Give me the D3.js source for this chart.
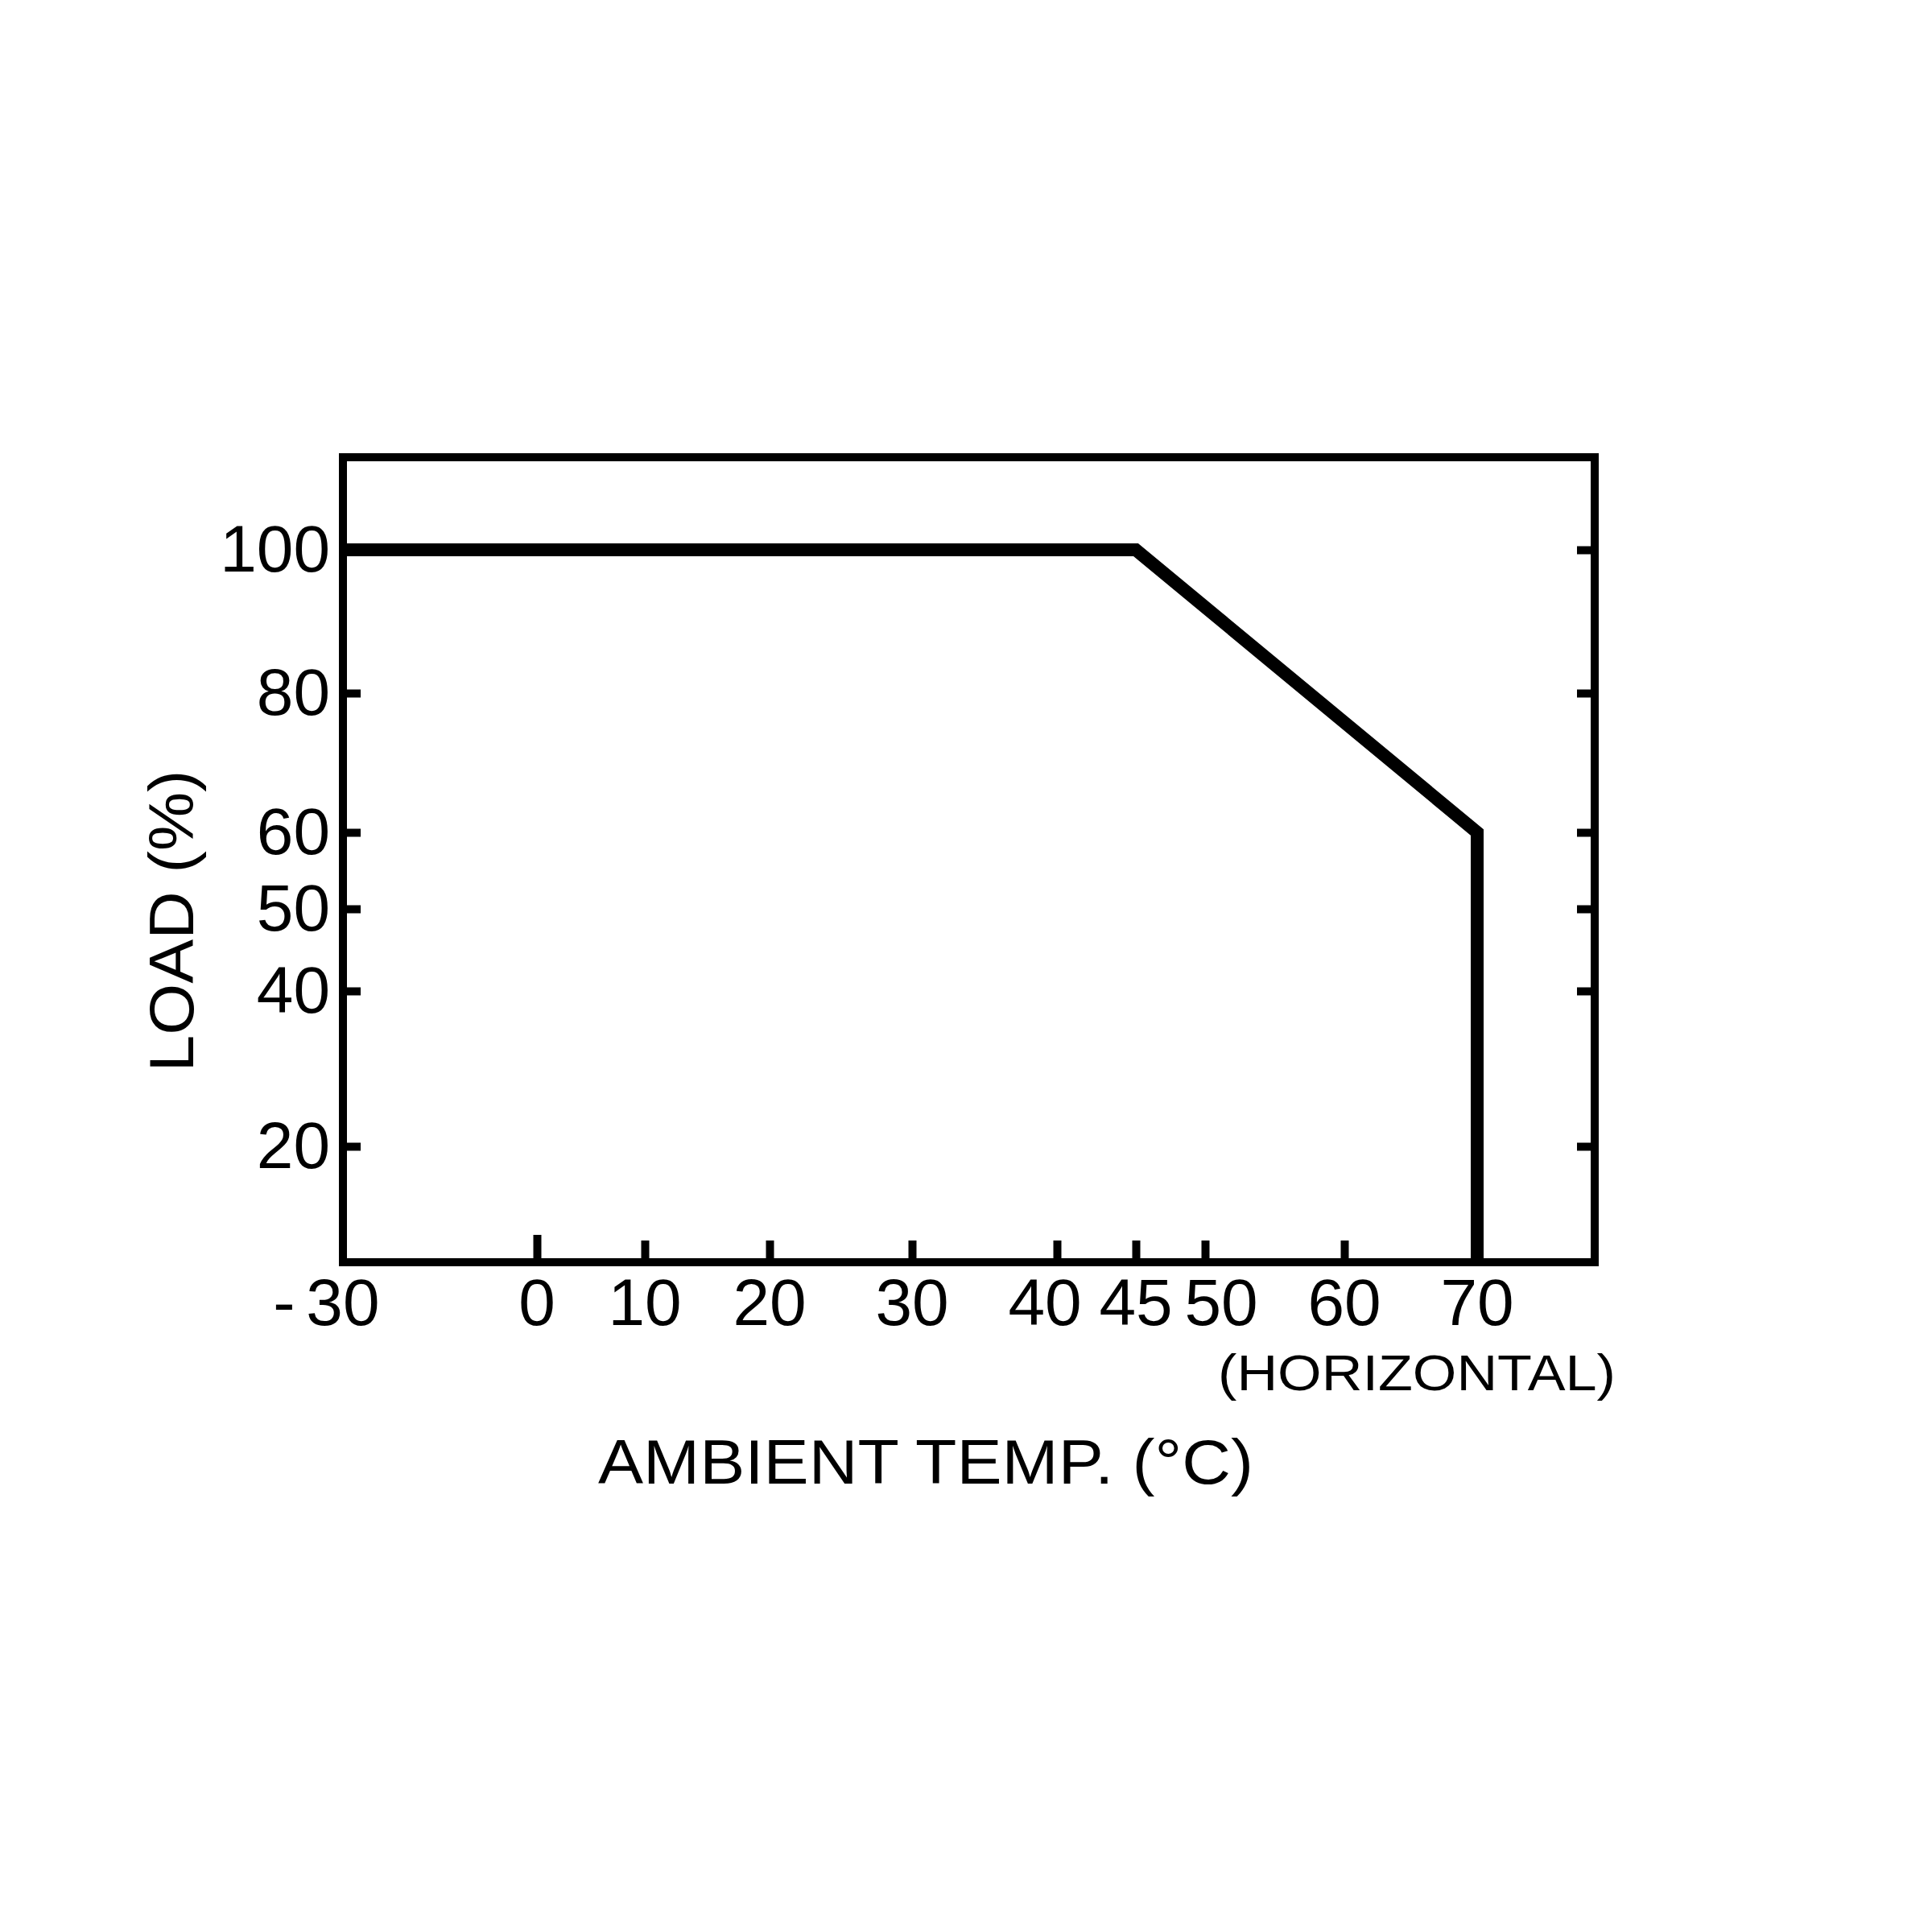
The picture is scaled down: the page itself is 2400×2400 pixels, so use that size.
<!DOCTYPE html>
<html>
<head>
<meta charset="utf-8">
<script src="https://cdn.jsdelivr.net/npm/d3@7"></script>
<style>
  html, body { margin: 0; padding: 0; background: #fff; }
  svg { display: block; }
  text { font-family: "Liberation Sans", Arial, Helvetica, sans-serif; fill: #000; }
</style>
</head>
<body>
<svg id="chart" width="2400" height="2400"></svg>
<script>
// ---------------- data ----------------
const xTicks = [-30, 0, 10, 20, 30, 40, 45, 50, 60, 70];
const xTickLabels = ["- 30", "0", "10", "20", "30", "40", "45", "50", "60", "70"];
const yTicks = [20, 40, 50, 60, 80, 100];
const yTickLabels = ["20", "40", "50", "60", "80", "100"];
const curveTemp = [-30, 45, 70, 70];
const curveLoad = [100, 100, 60, 0];
const xTitle = "AMBIENT TEMP. (°C)";
const xSubTitle = "(HORIZONTAL)";
const yTitle = "LOAD (%)";

// ---------------- layout ----------------
const box = { left: 426, right: 1981, top: 568, bottom: 1568 };
// the printed axes are not linear: piecewise-linear scales through the tick marks
const xScale = d3.scaleLinear()
  .domain([-30, 0, 10, 20, 30, 40, 45, 50, 60, 70, 79])
  .range([box.left, 667, 801, 956, 1133, 1313, 1411, 1497, 1670, 1835, box.right]);
const yScale = d3.scaleLinear()
  .domain([0, 20, 40, 50, 60, 80, 100, 113])
  .range([box.bottom, 1424, 1231, 1129, 1034, 861, 683, box.top]);

const svg = d3.select("#chart");
svg.append("rect").attr("width", 2400).attr("height", 2400).attr("fill", "#fff");

// frame
svg.append("rect")
  .attr("x", box.left).attr("y", box.top)
  .attr("width", box.right - box.left).attr("height", box.bottom - box.top)
  .attr("fill", "none").attr("stroke", "#000").attr("stroke-width", 10);

// bottom ticks (pointing up, inside)
const axisBottom = d3.axisBottom(xScale)
  .tickValues(xTicks.filter(v => v !== -30))
  .tickSizeInner(-27).tickSizeOuter(0).tickFormat("");
const gx = svg.append("g").attr("transform", `translate(0,${box.bottom})`).call(axisBottom);
gx.select(".domain").remove();
gx.selectAll(".tick line").attr("stroke", "#000").attr("stroke-width", 10)
  .attr("y2", d => d === 0 ? -34 : -27);

// left / right ticks (inside)
const axisLeft = d3.axisLeft(yScale).tickValues(yTicks.filter(v => v !== 100)).tickSizeInner(-22).tickSizeOuter(0).tickFormat("");
const gyl = svg.append("g").attr("transform", `translate(${box.left},0)`).call(axisLeft);
gyl.select(".domain").remove();
gyl.selectAll(".tick line").attr("stroke", "#000").attr("stroke-width", 10);

const axisRight = d3.axisRight(yScale).tickValues(yTicks).tickSizeInner(-22).tickSizeOuter(0).tickFormat("");
const gyr = svg.append("g").attr("transform", `translate(${box.right},0)`).call(axisRight);
gyr.select(".domain").remove();
gyr.selectAll(".tick line").attr("stroke", "#000").attr("stroke-width", 10);

// derating curve
const pts = curveTemp.map((t, i) => [t, curveLoad[i]]);
svg.append("path")
  .datum(pts)
  .attr("d", d3.line().x(d => xScale(d[0])).y(d => yScale(d[1])))
  .attr("fill", "none").attr("stroke", "#000").attr("stroke-width", 16)
  .attr("stroke-linejoin", "miter").attr("stroke-linecap", "butt");

// y tick labels
const fs = 82;
svg.append("g").selectAll("text").data(yTicks).join("text")
  .attr("x", 410)
  .attr("y", d => yScale(d) + 27)
  .attr("text-anchor", "end")
  .attr("font-size", fs)
  .text((d, i) => yTickLabels[i]);

// x tick labels (40 and 50 nudged apart around 45 as printed)
const nudge = { 40: -15, 50: 20 };
svg.append("g").selectAll("text").data(xTicks).join("text")
  .attr("x", d => xScale(d) + (nudge[d] || 0) + (d === -30 ? fs * 0.556 : 0))
  .attr("y", 1646)
  .attr("text-anchor", d => d === -30 ? "end" : "middle")
  .attr("font-size", fs)
  .attr("word-spacing", -9)
  .attr("xml:space", "preserve")
  .text((d, i) => xTickLabels[i]);

// titles
svg.append("text")
  .attr("x", 1513).attr("y", 1727)
  .attr("font-size", 63)
  .attr("textLength", 494).attr("lengthAdjust", "spacingAndGlyphs")
  .text(xSubTitle);

svg.append("text")
  .attr("x", 743).attr("y", 1843)
  .attr("font-size", 77)
  .attr("textLength", 814).attr("lengthAdjust", "spacingAndGlyphs")
  .text(xTitle);

svg.append("text")
  .attr("transform", "translate(240,1144) rotate(-90)")
  .attr("text-anchor", "middle")
  .attr("font-size", 78)
  .attr("textLength", 375).attr("lengthAdjust", "spacingAndGlyphs")
  .text(yTitle);
</script>
</body>
</html>
